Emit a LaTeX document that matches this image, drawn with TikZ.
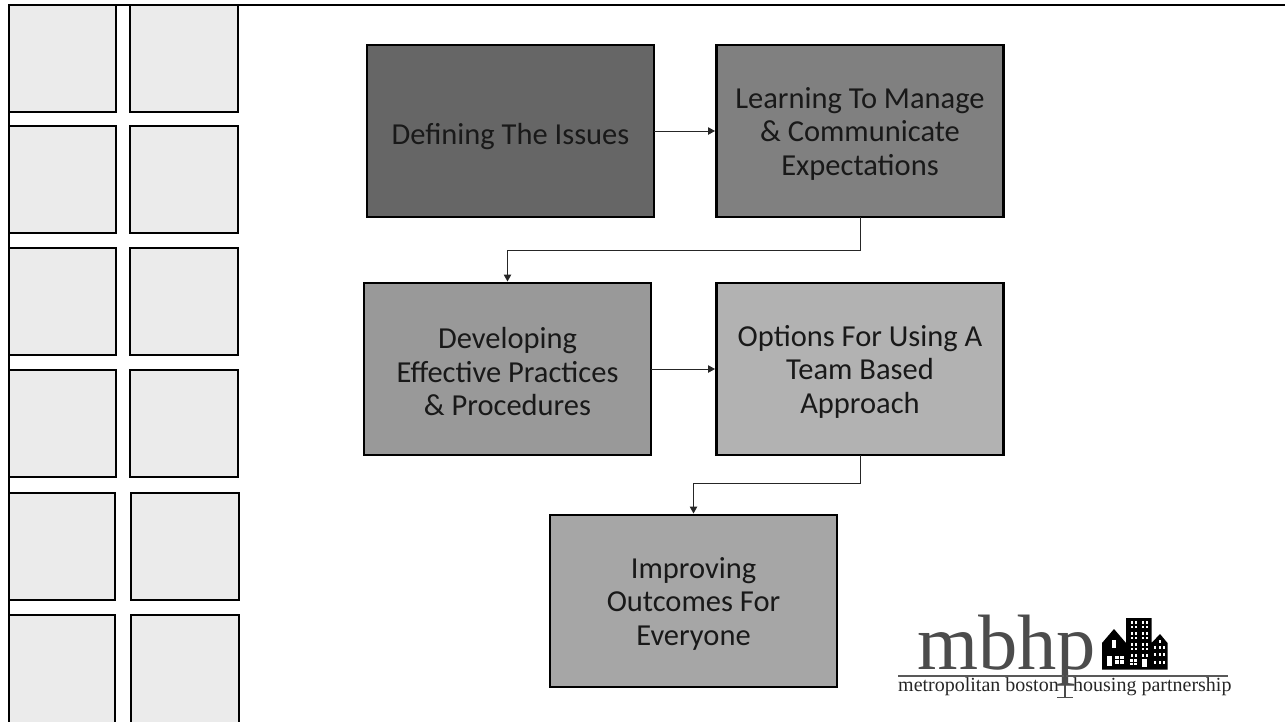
\documentclass[tikz,border=0pt]{standalone}
\usepackage{fontspec}
\setmainfont{Carlito}
\newfontfamily\logofont{Liberation Serif}
\usepackage{tikz}
\usetikzlibrary{arrows.meta}

\begin{document}
\begin{tikzpicture}[x=1pt,y=-1pt]
\tikzstyle{topic} = [draw=black,line width=2.2pt,outer sep=0pt,inner sep=0pt,align=center,text=black!90,minimum width=287pt,minimum height=172pt,font=\fontsize{30.5}{33.5}\selectfont]
\tikzstyle{oneline} = [execute at begin node={\rule{0pt}{33pt}}]
\tikzstyle{threelines} = [execute at begin node={\rule{0pt}{93.6pt}}]
\tikzstyle{tile} = [draw=black,fill=tilegray,line width=2pt,outer sep=0pt,inner sep=0pt]
\tikzstyle{link} = [draw=black!85,line width=1pt,shorten >=1.5pt,-{Triangle[length=7pt,width=7.5pt]}]
\tikzstyle{logotext} = [inner sep=0pt,anchor=base west,font=\logofont\fontsize{20}{22}\selectfont,text=black!85]
\definecolor{tilegray}{HTML}{EBEBEB}
\useasboundingbox (0,0) rectangle (1285,721);
\draw[line width=2.2pt] (1285,5) -- (9,5) -- (9,721);
\node[tile,minimum width=107pt,minimum height=107pt] (tile11) at (62.7,58.7) {};
\node[tile,minimum width=108pt,minimum height=107pt] (tile12) at (184,58.7) {};
\node[tile,minimum width=107pt,minimum height=107pt] (tile21) at (62.7,179.5) {};
\node[tile,minimum width=108pt,minimum height=107pt] (tile22) at (184,179.5) {};
\node[tile,minimum width=107pt,minimum height=107pt] (tile31) at (62.7,301.5) {};
\node[tile,minimum width=108pt,minimum height=107pt] (tile32) at (184,301.5) {};
\node[tile,minimum width=107pt,minimum height=107pt] (tile41) at (62.7,423.5) {};
\node[tile,minimum width=108pt,minimum height=107pt] (tile42) at (184,423.5) {};
\node[tile,minimum width=106.3pt,minimum height=107pt] (tile51) at (62.2,546.3) {};
\node[tile,minimum width=108pt,minimum height=107pt] (tile52) at (185,546.3) {};
\node[tile,minimum width=106.3pt,minimum height=110pt] (tile61) at (62.2,670) {};
\node[tile,minimum width=108pt,minimum height=110pt] (tile62) at (185,670) {};
\node[topic,oneline,fill=black!60] (defining) at (510.5,131) {Defining The Issues};
\node[topic,threelines,fill=black!50] (learning) at (860,131) {Learning To Manage\\\& Communicate\\Expectations};
\node[topic,threelines,fill=black!40] (developing) at (507.5,369) {Developing\\Effective Practices\\\& Procedures};
\node[topic,threelines,fill=black!30] (options) at (860,369) {Options For Using A\\Team Based\\Approach};
\node[topic,threelines,fill=black!35] (improving) at (693.5,601) {Improving\\Outcomes For\\Everyone};
\draw[link] (defining) -- (learning);
\draw[link] (learning.south) -- ++(0,33) -| (developing.north);
\draw[link] (developing) -- (options);
\draw[link] (options.south) -- ++(0,28) -| (improving.north);
% logo
\node[inner sep=0pt,anchor=base west,text depth=0pt,font=\logofont\fontsize{78.5}{78.5}\selectfont,text=black!70] (letters) at (917,669) {mbhp};
\draw[draw=black!65,line width=1.6pt] (898,676) -- (1228,676);
\draw[draw=black!70,line width=2.5pt] (1065,669) -- (1065,697);
\draw[draw=black!70,line width=1pt] (1057,697.5) -- (1073,697.5);
\node[logotext] (metro) at (898,691) {metropolitan boston};
\node[logotext] (housing) at (1073,691) {housing partnership};
\fill[black] (1102,669.5) -- (1102,643) -- (1114,629) -- (1126,643) -- (1126,618) -- (1151.5,618) -- (1151.5,643) -- (1160,634) -- (1167.5,643) -- (1167.5,669.5) -- cycle;
\foreach \winx in {1131,1134.5,1142,1145.5}
    \foreach \winy in {621,625.5,632,636.5,643,647.5,654}
        \fill[white] (\winx,\winy) rectangle ++(2.4,2.8);
\foreach \winx in {1153.5,1158.5,1163}
    \foreach \winy in {646,653,661}
        \fill[white] (\winx,\winy) rectangle ++(2.4,3);
\fill[white] (1159,640) rectangle ++(2.2,3);
\fill[white] (1111.7,639.5) rectangle (1116.3,647.5);
\fill[white] (1107.3,656) rectangle (1112,665.5);
\fill[white] (1115.3,656) rectangle (1124,663.5);
\fill[white] (1141.7,659) rectangle (1146.7,666.5);
\fill[white] (1130,659) rectangle (1137,665);
\draw[black,line width=.8pt] (1119.6,656) -- (1119.6,663.5) (1115.3,659.7) -- (1124,659.7) (1133.5,659) -- (1133.5,665) (1130,662) -- (1137,662);
\end{tikzpicture}
\end{document}
